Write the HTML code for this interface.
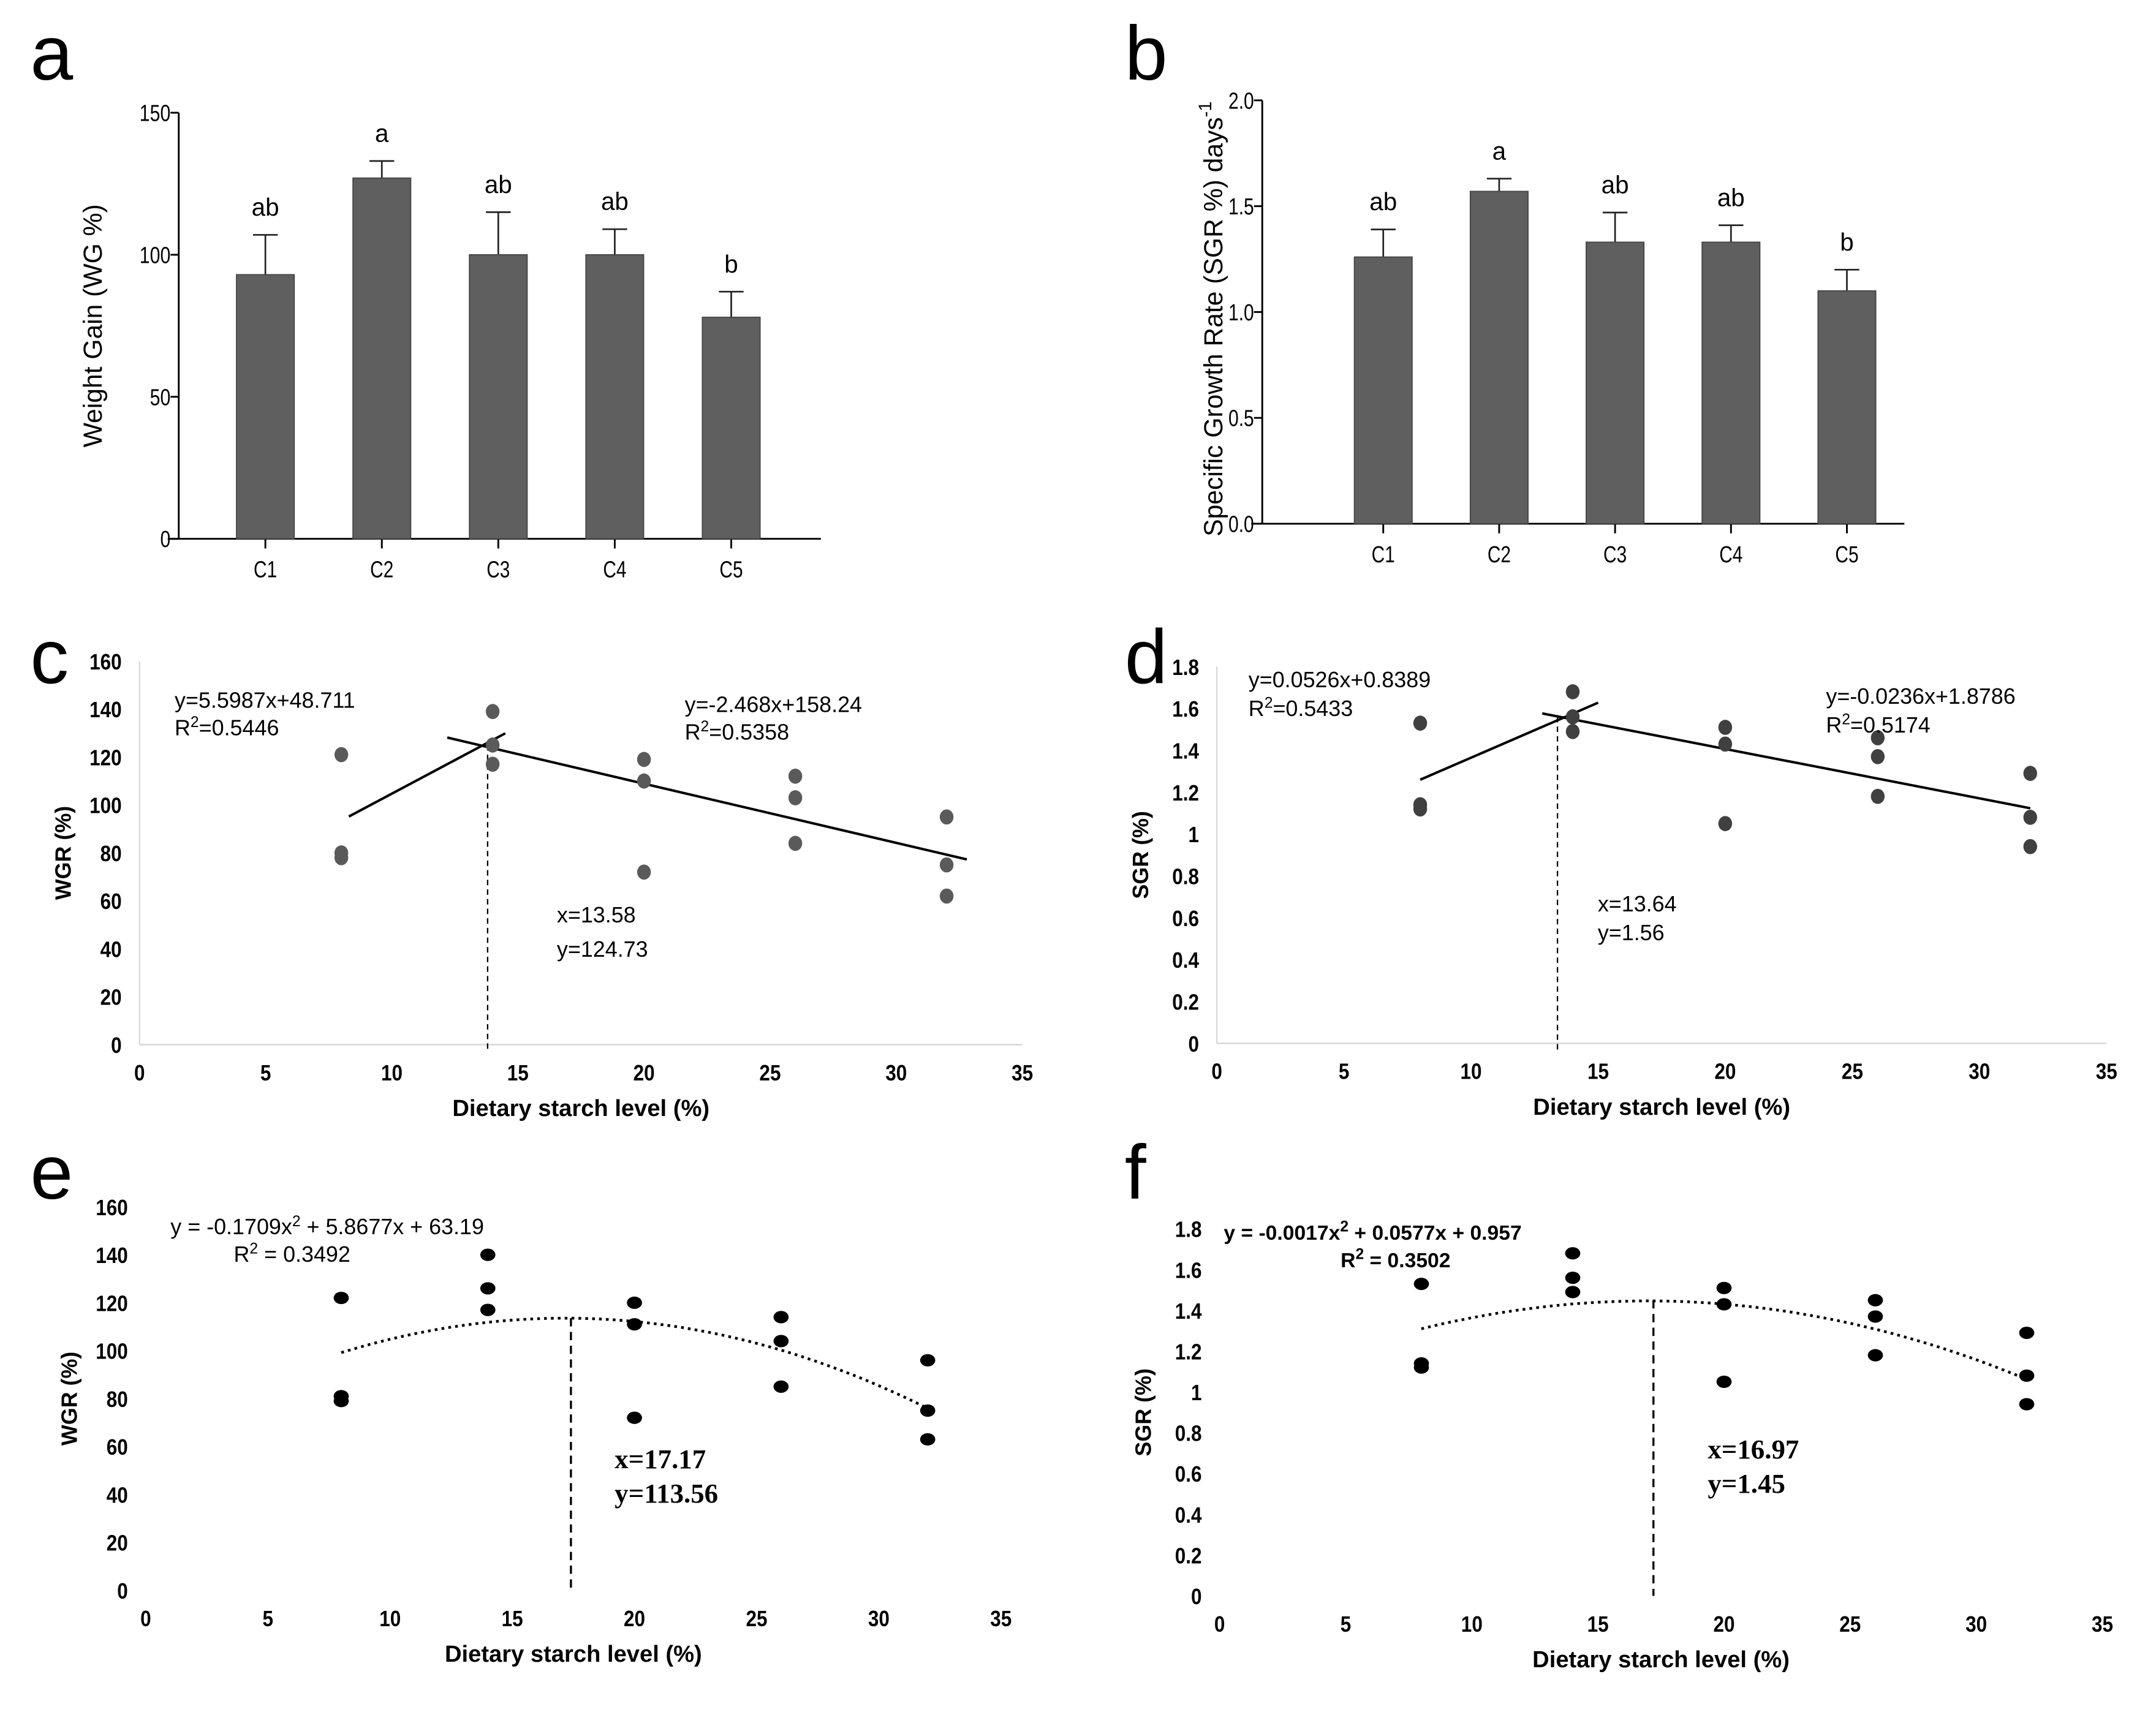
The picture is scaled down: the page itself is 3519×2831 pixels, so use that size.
<!DOCTYPE html>
<html><head><meta charset="utf-8"><style>
html,body{margin:0;padding:0;background:#fff;}
svg{display:block;font-family:"Liberation Sans",Arial,sans-serif;}
</style></head><body>
<svg id="fig" xmlns="http://www.w3.org/2000/svg" width="3519" height="2831" viewBox="0 0 1568 1261.5" preserveAspectRatio="none">
<rect width="1568" height="1261.5" fill="#fff"/>
</svg>
<script>
// ---- data ----
const barCats = ["C1","C2","C3","C4","C5"];
const wgMeans = [93, 127, 100, 100, 78];
const wgErr = [14, 6, 15, 9, 9];
const wgLetters = ["ab","a","ab","ab","b"];
const wgTicks = [0, 50, 100, 150];
const sgrMeans = [1.26, 1.57, 1.33, 1.33, 1.10];
const sgrErr = [0.13, 0.06, 0.14, 0.08, 0.10];
const sgrLetters = ["ab","a","ab","ab","b"];
const sgrTicks = [0.0, 0.5, 1.0, 1.5, 2.0];
const starchX = [8,8,8,14,14,14,20,20,20,26,26,26,32,32,32];
const wgrC = [121,80,78,139,125,117,119,110,72,112,103,84,95,75,62];
const sgrD = [1.53,1.14,1.12,1.68,1.56,1.49,1.51,1.43,1.05,1.46,1.37,1.18,1.29,1.08,0.94];
const wgrE = [122,81,79,140,126,117,120,111,72,114,104,85,96,75,63];
const sgrF = [1.53,1.14,1.12,1.68,1.56,1.49,1.51,1.43,1.05,1.45,1.37,1.18,1.29,1.08,0.94];
const xTicks = [0,5,10,15,20,25,30,35];
const wgrTicks = [0,20,40,60,80,100,120,140,160];
const sgrTicksS = [0,0.2,0.4,0.6,0.8,1,1.2,1.4,1.6,1.8];
const lineC1 = [5.5987, 48.711, 8.3, 14.5];
const lineC2 = [-2.468, 158.24, 12.2, 32.8];
const lineD1 = [0.0526, 0.8389, 8, 15];
const lineD2 = [-0.0236, 1.8786, 12.8, 32];
const quadE = [-0.1709, 5.8677, 63.19];
const quadF = [-0.0017, 0.0577, 0.957];

const NS="http://www.w3.org/2000/svg";
const svg=document.getElementById('fig');
function el(tag,attrs,parent,text){const e=document.createElementNS(NS,tag);for(const k in attrs)e.setAttribute(k,attrs[k]);if(text!==undefined)e.textContent=text;(parent||svg).appendChild(e);return e;}
function narrow(e,s,cw){e.setAttribute('textLength',(s.length*cw).toFixed(1));e.setAttribute('lengthAdjust','spacingAndGlyphs');}

function lbl(t,x,y){const e=el('text',{x:x,y:y,'font-size':56,fill:'#000'},svg,t);

}
lbl('a',22,58);lbl('b',818,58);lbl('c',22,497);lbl('d',818,497);lbl('e',22,872);lbl('f',818,872);

function barPanel(id,ax,means,errs,letters,ticks,ymax,title,fmt){
  const g=el('g',{});
  
  
  const sy=v=>ax.y0-(v/ymax)*(ax.y0-ax.ytop);
  const n=means.length;
  const cx=i=>ax.xc0+i*ax.step;
  el('line',{x1:ax.x,y1:ax.ytop,x2:ax.x,y2:ax.y0,stroke:'#000','stroke-width':1.3},g);
  el('line',{x1:ax.x-8,y1:ax.y0,x2:ax.xend,y2:ax.y0,stroke:'#000','stroke-width':1.3},g);
  ticks.forEach(t=>{
    el('line',{x1:ax.x-6,y1:sy(t),x2:ax.x,y2:sy(t),stroke:'#000','stroke-width':1.3},g);
    const s=fmt(t);
    const tt=el('text',{x:ax.x-6,y:sy(t)+6,'font-size':17,'text-anchor':'end'},g,s);
    narrow(tt,s,ax.cw);
    
    
  });
  for(let i=0;i<n;i++){
    const x=cx(i);
    el('line',{x1:x,y1:ax.y0,x2:x,y2:ax.y0+7,stroke:'#000','stroke-width':1.3},g);
    const xl=el('text',{x:x,y:ax.y0+28,'font-size':17,'text-anchor':'middle'},g,barCats[i]);
    narrow(xl,barCats[i],8.5);
    
    
    const top=sy(means[i]+errs[i]);
    el('line',{x1:x,y1:top,x2:x,y2:sy(means[i]),stroke:'#222','stroke-width':1.2},g);
    el('line',{x1:x-9,y1:top,x2:x+9,y2:top,stroke:'#222','stroke-width':1.2},g);
    const b=el('rect',{x:x-21,y:sy(means[i]),width:42,height:ax.y0-sy(means[i]),fill:'#5f5f5f',stroke:'#444','stroke-width':0.8},g);
    
    
    const l=el('text',{x:x,y:top-14,'font-size':18,'text-anchor':'middle'},g,letters[i]);
    
    
  }
  const yt=el('text',{x:0,y:0,'font-size':19,'text-anchor':'middle',transform:`translate(${ax.tx},${ax.ty}) rotate(-90)`},g);
  yt.innerHTML=title;
  
  
}
barPanel('wg',{x:130,ytop:82,y0:392,xc0:193,step:84.7,xend:597,tx:74,ty:237,cw:7.5},wgMeans,wgErr,wgLetters,wgTicks,150,'Weight Gain (WG %)',t=>String(t));
barPanel('sgr',{x:918,ytop:73,y0:381,xc0:1006,step:84.3,xend:1385,tx:889,ty:232,cw:6.2},sgrMeans,sgrErr,sgrLetters,sgrTicks,2.0,'Specific Growth Rate (SGR %) days<tspan dy="-8" font-size="13">-1</tspan>',t=>t.toFixed(1));

function scatterPanel(id,ax,xs,ys,yTicks,ymax,ytitle,opt){
  const g=el('g',{});
  
  
  const sx=v=>ax.x0+v/35*(ax.x35-ax.x0);
  const sy=v=>ax.y0-v/ymax*(ax.y0-ax.ytop);
  if(opt.axes){
    el('line',{x1:ax.x0,y1:ax.ytop,x2:ax.x0,y2:ax.y0,stroke:'#d9d9d9','stroke-width':1},g);
    el('line',{x1:ax.x0,y1:ax.y0,x2:ax.x35,y2:ax.y0,stroke:'#d9d9d9','stroke-width':1.2},g);
  }
  yTicks.forEach(t=>{
    const s=opt.fmt(t);
    const e=el('text',{x:ax.x0-13,y:sy(t)+6,'font-size':16,'font-weight':'bold','text-anchor':'end'},g,s);
    narrow(e,s,s.indexOf('.')>=0?6.5:7.8);
    
    
  });
  xTicks.forEach(t=>{
    const s=String(t);
    const e=el('text',{x:sx(t),y:ax.y0+26,'font-size':16,'font-weight':'bold','text-anchor':'middle'},g,s);
    narrow(e,s,7.8);
    
    
  });
  const xt=el('text',{x:(ax.x0+ax.x35)/2,y:ax.y0+52,'font-size':17,'font-weight':'bold','text-anchor':'middle'},g,'Dietary starch level (%)');
  
  
  const yt=el('text',{x:0,y:0,'font-size':16,'font-weight':'bold','text-anchor':'middle',transform:`translate(${ax.x0-50},${(ax.y0+ax.ytop)/2}) rotate(-90)`},g,ytitle);
  
  
  (opt.lines||[]).forEach((L,k)=>{
    const ln=el('line',{x1:sx(L[2]),y1:sy(L[0]*L[2]+L[1]),x2:sx(L[3]),y2:sy(L[0]*L[3]+L[1]),stroke:'#000','stroke-width':1.8},g);
    
    
  });
  if(opt.quad){
    const q=opt.quad;let d='';
    for(let v=8;v<=32.001;v+=0.5){const yv=q[0]*v*v+q[1]*v+q[2];d+=(d?'L':'M')+sx(v).toFixed(1)+','+sy(yv).toFixed(1);}
    const p=el('path',{d:d,fill:'none',stroke:'#000','stroke-width':2,'stroke-dasharray':'2,3'},g);
    
    
  }
  const vx=opt.vline;
  const vl=el('line',{x1:sx(vx[0]),y1:sy(vx[1]),x2:sx(vx[0]),y2:ax.y0+(opt.axes?5:0),stroke:'#000','stroke-width':opt.axes?1:1.5,'stroke-dasharray':opt.axes?'4,3':'6,4'},g);
  
  
  for(let i=0;i<xs.length;i++){
    const c=el('ellipse',{cx:sx(xs[i]),cy:sy(ys[i]),rx:opt.axes?5:5.5,ry:opt.axes?5.5:4.5,fill:opt.color},g);
    
    
  }
  opt.texts.forEach(T=>{
    const e=el('text',{x:T[1],y:T[2],'font-size':T[3],'font-weight':T[4]||'normal','font-family':T[5]||'"Liberation Sans",sans-serif'},g);
    e.innerHTML=T[0];
    
    
  });
}
const fmtInt=t=>String(t);
const fmtS=t=>(t===0||t===1)?String(t):t.toFixed(1);
const SUP='<tspan dy="-6" font-size="11">2</tspan><tspan dy="6">';
scatterPanel('c',{x0:101.5,x35:743.5,y0:760,ytop:481},starchX,wgrC,wgrTicks,160,'WGR (%)',
 {axes:true,color:'#5a5a5a',fmt:fmtInt,lines:[lineC1,lineC2],vline:[13.8,125],
  texts:[['y=5.5987x+48.711',127,515,16],['R'+SUP+'=0.5446</tspan>',127,535,16],['y=-2.468x+158.24',498,518,16],['R'+SUP+'=0.5358</tspan>',498,538,16],['x=13.58',405,671,16],['y=124.73',405,696,16]]});
scatterPanel('d',{x0:885,x35:1532,y0:759,ytop:485},starchX,sgrD,sgrTicksS,1.8,'SGR (%)',
 {axes:true,color:'#404040',fmt:fmtS,lines:[lineD1,lineD2],vline:[13.4,1.56],
  texts:[['y=0.0526x+0.8389',908,500,16],['R'+SUP+'=0.5433</tspan>',908,521,16],['y=-0.0236x+1.8786',1328,512,16],['R'+SUP+'=0.5174</tspan>',1328,533,16],['x=13.64',1162,663,16],['y=1.56',1162,684,16]]});
scatterPanel('e',{x0:106,x35:728,y0:1157,ytop:878},starchX,wgrE,wgrTicks,160,'WGR (%)',
 {axes:false,color:'#000',fmt:fmtInt,quad:quadE,vline:[17.4,113.56],
  texts:[['y = -0.1709x'+SUP+' + 5.8677x + 63.19</tspan>',124,898,16],['R'+SUP+' = 0.3492</tspan>',170,918,16],['x=17.17',447,1068,20,'bold','"Liberation Serif",serif'],['y=113.56',447,1093,20,'bold','"Liberation Serif",serif']]});
scatterPanel('f',{x0:887,x35:1529,y0:1161,ytop:894},starchX,sgrF,sgrTicksS,1.8,'SGR (%)',
 {axes:false,color:'#000',fmt:fmtS,quad:quadF,vline:[17.2,1.45],
  texts:[['y = -0.0017x'+SUP+' + 0.0577x + 0.957</tspan>',890,902,15,'bold'],['R'+SUP+' = 0.3502</tspan>',975,922,15,'bold'],['x=16.97',1242,1061,20,'bold','"Liberation Serif",serif'],['y=1.45',1242,1086,20,'bold','"Liberation Serif",serif']]});
</script>
</body></html>
